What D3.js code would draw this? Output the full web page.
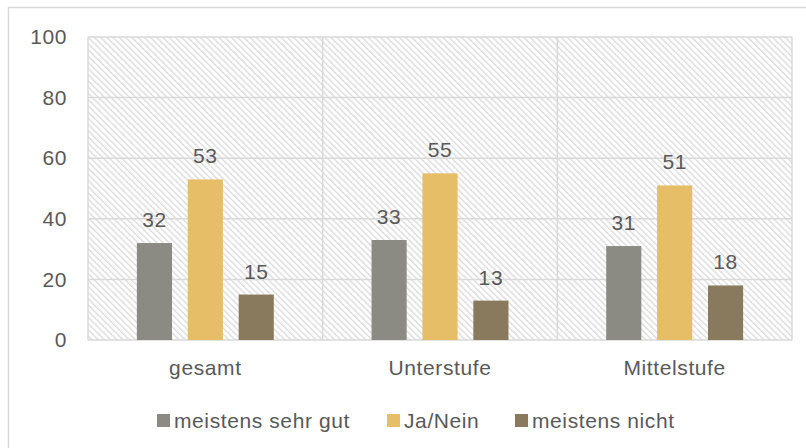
<html>
<head>
<meta charset="utf-8">
<title>Bewertung</title>
<style>
	html, body { margin: 0; background: #fff; }
	body { width: 806px; height: 448px; overflow: hidden; }
	text { font-family: "Liberation Sans", Arial, sans-serif; fill: #595959; letter-spacing: 0.6px; }
</style>
</head>
<body>
<div id="chart"></div>
<script src="https://cdn.jsdelivr.net/npm/d3@7"></script>
<script>
const categories = ["gesamt", "Unterstufe", "Mittelstufe"]
const seriesNames = ["meistens sehr gut", "Ja/Nein", "meistens nicht"]
const sehrGut = [32, 33, 31]
const jaNein = [53, 55, 51]
const nicht = [15, 13, 18]
const yTicks = [0, 20, 40, 60, 80, 100]
const colors = ["#8b8b84", "#e5be67", "#8a7a5d"]

const values = [sehrGut, jaNein, nicht]

const width = 806, height = 448
const plot = { left: 88, top: 37, right: 792, bottom: 340 }

const svg = d3.select("#chart").append("svg")
	.attr("width", width)
	.attr("height", height)

// hatch fill for the plot area
const defs = svg.append("defs")
defs.append("pattern")
	.attr("id", "hatch")
	.attr("patternUnits", "userSpaceOnUse")
	.attr("width", 4.4)
	.attr("height", 4.4)
	.attr("patternTransform", "rotate(-45)")
	.append("rect")
	.attr("x", 0).attr("y", 0)
	.attr("width", 1.4).attr("height", 4.4)
	.attr("fill", "#dcdcdc")

// outer chart border
svg.append("rect")
	.attr("x", 8.5).attr("y", 7.5)
	.attr("width", width + 10).attr("height", height + 10)
	.attr("fill", "none")
	.attr("stroke", "#d9d9d9")
	.attr("stroke-width", 1.5)

const x = d3.scaleBand()
	.domain(categories)
	.range([plot.left, plot.right])

const xs = d3.scaleBand()
	.domain(d3.range(seriesNames.length))
	.range([0, x.bandwidth()])
	.paddingInner(0.31)
	.paddingOuter(0.96)

const y = d3.scaleLinear()
	.domain([0, 100])
	.range([plot.bottom, plot.top])

svg.append("rect")
	.attr("x", plot.left).attr("y", plot.top)
	.attr("width", plot.right - plot.left)
	.attr("height", plot.bottom - plot.top)
	.attr("fill", "url(#hatch)")

// horizontal gridlines
svg.append("g")
	.selectAll("line")
	.data(yTicks)
	.join("line")
	.attr("x1", plot.left).attr("x2", plot.right)
	.attr("y1", d => y(d)).attr("y2", d => y(d))
	.attr("stroke", "#d9d9d9")
	.attr("stroke-width", 1.5)

// category separators
svg.append("g")
	.selectAll("line")
	.data(categories.concat(["end"]))
	.join("line")
	.attr("x1", (d, i) => i < categories.length ? x(d) : plot.right)
	.attr("x2", (d, i) => i < categories.length ? x(d) : plot.right)
	.attr("y1", plot.top).attr("y2", plot.bottom)
	.attr("stroke", "#d9d9d9")
	.attr("stroke-width", 1.5)

// y axis labels
const yAxis = svg.append("g")
	.attr("transform", "translate(" + (plot.left - 21) + ",0)")
	.call(d3.axisLeft(y).tickValues(yTicks).tickSize(0).tickPadding(0))
yAxis.select(".domain").remove()
yAxis.selectAll("text")
	.attr("font-size", 21)
	.attr("fill", "#595959")
	.style("font-family", "'Liberation Sans', Arial, sans-serif")

// x axis labels
const xAxis = svg.append("g")
	.attr("transform", "translate(0," + plot.bottom + ")")
	.call(d3.axisBottom(x).tickSize(0).tickPadding(20))
xAxis.select(".domain").remove()
xAxis.selectAll("text")
	.attr("font-size", 21)
	.attr("fill", "#595959")
	.style("font-family", "'Liberation Sans', Arial, sans-serif")

// bars
const groups = svg.append("g")
	.selectAll("g")
	.data(categories)
	.join("g")
	.attr("transform", d => "translate(" + x(d) + ",0)")

groups.selectAll("rect")
	.data((c, ci) => values.map((v, si) => ({ s: si, v: v[ci] })))
	.join("rect")
	.attr("x", d => xs(d.s))
	.attr("width", xs.bandwidth())
	.attr("y", d => y(d.v))
	.attr("height", d => y(0) - y(d.v))
	.attr("fill", d => colors[d.s])

groups.selectAll("text.label")
	.data((c, ci) => values.map((v, si) => ({ s: si, v: v[ci] })))
	.join("text")
	.attr("class", "label")
	.attr("x", d => xs(d.s) + xs.bandwidth() / 2)
	.attr("y", d => y(d.v) - 16)
	.attr("text-anchor", "middle")
	.attr("font-size", 21)
	.text(d => d.v)

// legend
const legendX = [157, 387, 515]
const legend = svg.append("g")
	.selectAll("g")
	.data(seriesNames)
	.join("g")
	.attr("transform", (d, i) => "translate(" + legendX[i] + ",414)")
legend.append("rect")
	.attr("width", 13).attr("height", 13)
	.attr("fill", (d, i) => colors[i])
legend.append("text")
	.attr("x", 17).attr("y", 14)
	.attr("font-size", 21)
	.text(d => d)
</script>
</body>
</html>
